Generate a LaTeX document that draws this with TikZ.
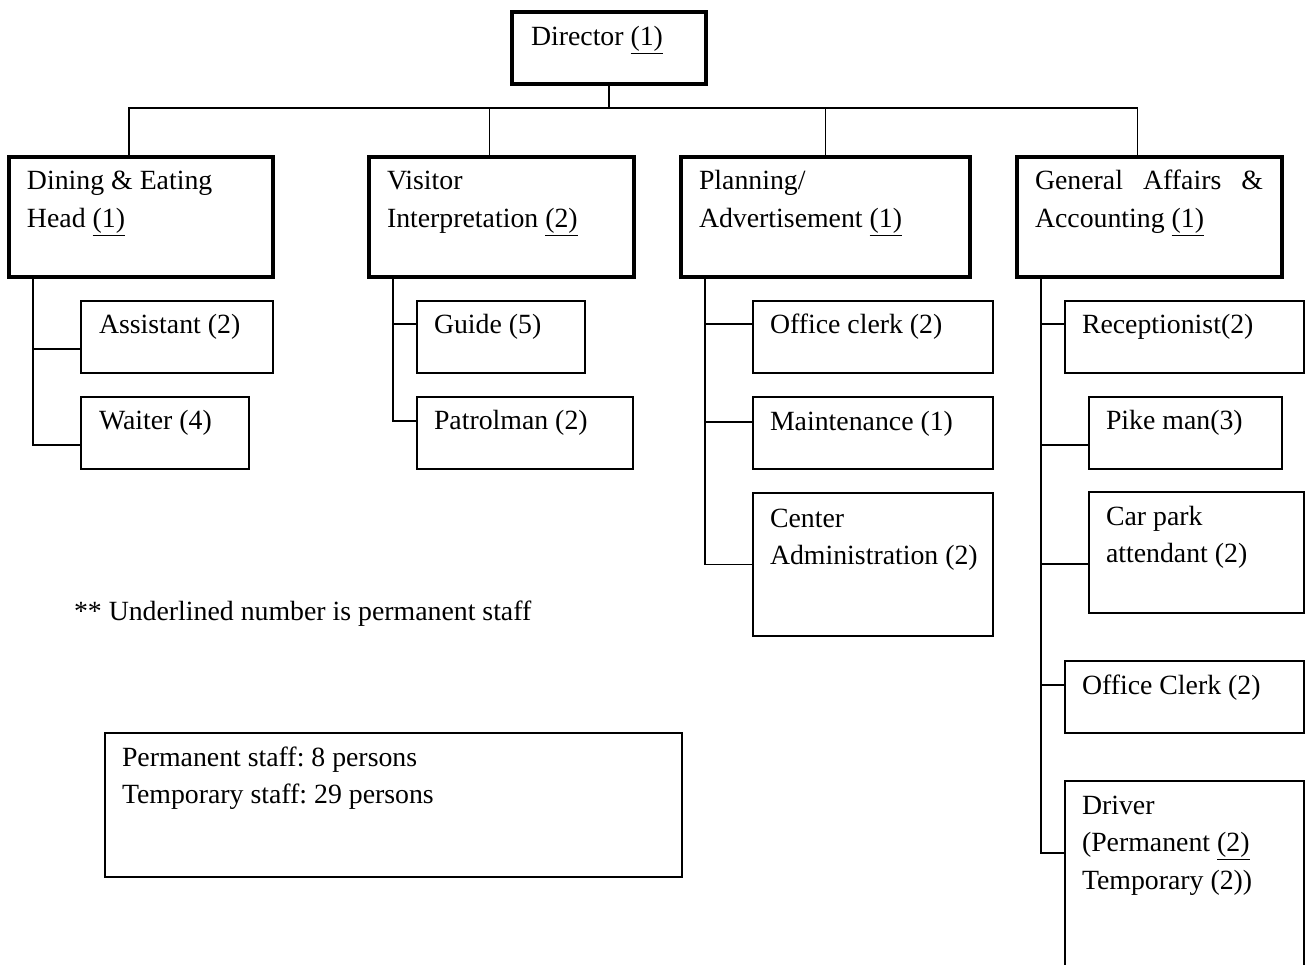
\documentclass[tikz,border=0pt]{standalone}
\usepackage{fontspec}
\setmainfont{Liberation Serif}
\frenchspacing
\newcommand\mylines[1]{\parbox[t]{420pt}{\raggedright #1}}
\begin{document}
\begin{tikzpicture}[x=1pt,y=-1pt,
  headbox/.style={draw, line width=3.5pt, anchor=north west, inner sep=0pt, outer sep=0pt},
  subbox/.style={draw, line width=2pt, anchor=north west, inner sep=0pt, outer sep=0pt},
  txt/.style={anchor=base west, inner sep=0pt, outer sep=0pt, font=\fontsize{27.8pt}{37.5pt}\selectfont},
  link/.style={line width=1.9pt},
]
\useasboundingbox (0,0) rectangle (1305,965);
\clip (0,0) rectangle (1305,965);

% head boxes
\node[headbox, minimum width=194pt, minimum height=72pt] (dir) at (512,12) {};
\node[headbox, minimum width=264pt, minimum height=120pt] (dining) at (9,157) {};
\node[headbox, minimum width=265pt, minimum height=120pt] (visitor) at (369,157) {};
\node[headbox, minimum width=289pt, minimum height=120pt] (planning) at (681,157) {};
\node[headbox, minimum width=265pt, minimum height=120pt] (general) at (1017,157) {};

% sub boxes
\node[subbox, minimum width=192pt, minimum height=72pt] (assistant) at (81,301) {};
\node[subbox, minimum width=168pt, minimum height=72pt] (waiter) at (81,397) {};
\node[subbox, minimum width=168pt, minimum height=72pt] (guide) at (417,301) {};
\node[subbox, minimum width=216pt, minimum height=72pt] (patrol) at (417,397) {};
\node[subbox, minimum width=240pt, minimum height=72pt] (oclerk) at (753,301) {};
\node[subbox, minimum width=240pt, minimum height=72pt] (maint) at (753,397) {};
\node[subbox, minimum width=240pt, minimum height=143pt] (center) at (753,493) {};
\node[subbox, minimum width=239pt, minimum height=72pt] (recep) at (1065,301) {};
\node[subbox, minimum width=193pt, minimum height=72pt] (pike) at (1089,397) {};
\node[subbox, minimum width=215pt, minimum height=121pt] (carpark) at (1089,492) {};
\node[subbox, minimum width=239pt, minimum height=72pt] (oclerkb) at (1065,661) {};
\node[subbox, minimum width=239pt, minimum height=200pt] (driver) at (1065,781) {};
\node[subbox, minimum width=577pt, minimum height=144pt] (summary) at (105,733) {};

% texts
\node[txt] (tdir) at ([shift={(19pt,-34pt)}]dir.north west) {Director \underline{(1)}};
\node[txt] (tdining) at ([shift={(18pt,-33pt)}]dining.north west) {\mylines{Dining \& Eating\\Head \underline{(1)}}};
\node[txt] (tvisitor) at ([shift={(18pt,-33pt)}]visitor.north west) {\mylines{Visitor\\Interpretation \underline{(2)}}};
\node[txt] (tplanning) at ([shift={(18pt,-33pt)}]planning.north west) {\mylines{Planning/\\Advertisement \underline{(1)}}};
\node[txt] (tgeneral) at ([shift={(18pt,-33pt)}]general.north west) {\mylines{\makebox[228pt][s]{General Affairs \&}\\Accounting \underline{(1)}}};

\node[txt] (tassistant) at ([shift={(18pt,-32pt)}]assistant.north west) {Assistant (2)};
\node[txt] (twaiter) at ([shift={(18pt,-32pt)}]waiter.north west) {Waiter (4)};
\node[txt] (tguide) at ([shift={(17pt,-32pt)}]guide.north west) {Guide (5)};
\node[txt] (tpatrol) at ([shift={(17pt,-32pt)}]patrol.north west) {Patrolman (2)};
\node[txt] (toclerk) at ([shift={(17pt,-32pt)}]oclerk.north west) {Office clerk (2)};
\node[txt] (tmaint) at ([shift={(17pt,-33pt)}]maint.north west) {Maintenance (1)};
\node[txt] (tcenter) at ([shift={(17pt,-34pt)}]center.north west) {\mylines{Center\\Administration (2)}};
\node[txt] (trecep) at ([shift={(17pt,-33pt)}]recep.north west) {Receptionist(2)};
\node[txt] (tpike) at ([shift={(17pt,-32pt)}]pike.north west) {Pike man(3)};
\node[txt] (tcarpark) at ([shift={(17pt,-33pt)}]carpark.north west) {\mylines{Car park\\attendant (2)}};
\node[txt] (toclerkb) at ([shift={(17pt,-33pt)}]oclerkb.north west) {Office Clerk (2)};
\node[txt] (tdriver) at ([shift={(17pt,-33pt)}]driver.north west) {\mylines{Driver\\(Permanent \underline{(2)}\\Temporary (2))}};
\node[txt] (tsummary) at ([shift={(17pt,-33pt)}]summary.north west) {\mylines{Permanent staff: 8 persons\\Temporary staff: 29 persons}};
\node[txt] (tnote) at (74,620) {** Underlined number is permanent staff};

% connectors: director to departments
\coordinate (hub) at (609,108);
\draw[link] (dir.south) -- (hub);
\draw[link] ([xshift=-12pt]dining.north) |- (hub);
\draw[link] ([xshift=-12pt]visitor.north) |- (hub);
\draw[link] (planning.north) |- (hub);
\draw[link] ([xshift=-12pt]general.north) |- (hub);

% connectors: departments to sub units
\draw[link] ([yshift=-12pt]assistant.west) -| ([xshift=24pt]dining.south west);
\draw[link] ([yshift=-12pt]waiter.west) -| ([xshift=24pt]dining.south west);
\draw[link] ([yshift=13pt]guide.west) -| ([xshift=24pt]visitor.south west);
\draw[link] ([yshift=12pt]patrol.west) -| ([xshift=24pt]visitor.south west);
\draw[link] ([yshift=13pt]oclerk.west) -| ([xshift=24pt]planning.south west);
\draw[link] ([yshift=11pt]maint.west) -| ([xshift=24pt]planning.south west);
\draw[link] (center.west) -| ([xshift=24pt]planning.south west);
\draw[link] ([yshift=13pt]recep.west) -| ([xshift=24pt]general.south west);
\draw[link] ([yshift=-12pt]pike.west) -| ([xshift=24pt]general.south west);
\draw[link] ([yshift=-11.5pt]carpark.west) -| ([xshift=24pt]general.south west);
\draw[link] ([yshift=12pt]oclerkb.west) -| ([xshift=24pt]general.south west);
\draw[link] ([yshift=-72pt]driver.north west) -| ([xshift=24pt]general.south west);
\end{tikzpicture}
\end{document}
